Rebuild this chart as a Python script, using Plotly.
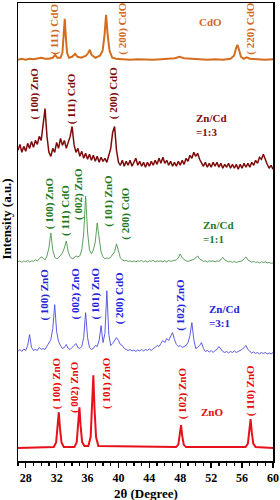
import plotly.graph_objects as go

# ---------------- data ----------------
# 2-theta sampling grid (degree) for the three mixed samples
two_theta_grid = [
    27.0, 27.25, 27.5, 27.75,
    28.0, 28.25, 28.5, 28.75,
    29.0, 29.25, 29.5, 29.75,
    30.0, 30.25, 30.5, 30.75,
    31.0, 31.25, 31.5, 31.75,
    32.0, 32.25, 32.5, 32.75,
    33.0, 33.25, 33.5, 33.75,
    34.0, 34.25, 34.5, 34.75,
    35.0, 35.25, 35.5, 35.75,
    36.0, 36.25, 36.5, 36.75,
    37.0, 37.25, 37.5, 37.75,
    38.0, 38.25, 38.5, 38.75,
    39.0, 39.25, 39.5, 39.75,
    40.0, 40.25, 40.5, 40.75,
    41.0, 41.25, 41.5, 41.75,
    42.0, 42.25, 42.5, 42.75,
    43.0, 43.25, 43.5, 43.75,
    44.0, 44.25, 44.5, 44.75,
    45.0, 45.25, 45.5, 45.75,
    46.0, 46.25, 46.5, 46.75,
    47.0, 47.25, 47.5, 47.75,
    48.0, 48.25, 48.5, 48.75,
    49.0, 49.25, 49.5, 49.75,
    50.0, 50.25, 50.5, 50.75,
    51.0, 51.25, 51.5, 51.75,
    52.0, 52.25, 52.5, 52.75,
    53.0, 53.25, 53.5, 53.75,
    54.0, 54.25, 54.5, 54.75,
    55.0, 55.25, 55.5, 55.75,
    56.0, 56.25, 56.5, 56.75,
    57.0, 57.25, 57.5, 57.75,
    58.0, 58.25, 58.5, 58.75,
    59.0, 59.25, 59.5, 59.75,
    60.0,
]

# Zn/Cd = 1:3 (stacked intensity, a.u.)
int_zncd_13 = [
    312, 318, 310, 316,
    311, 319, 314, 321,
    315, 322, 318, 326,
    322, 338, 354, 326,
    310, 306, 314, 310,
    320, 314, 324, 317,
    322, 314, 321, 326,
    336, 318, 310, 314,
    306, 311, 304, 309,
    303, 308, 302, 307,
    301, 306, 300, 305,
    301, 304, 300, 306,
    314, 330, 336, 312,
    300, 297, 302, 296,
    301, 297, 302, 296,
    300, 304, 297, 301,
    296, 300, 295, 300,
    296, 301, 297, 302,
    298, 304, 299, 305,
    299, 302, 297, 301,
    296, 300, 296, 301,
    297, 302, 298, 304,
    301, 307, 304, 310,
    306, 309, 303, 300,
    296, 300, 295, 299,
    295, 300, 296, 300,
    295, 299, 294, 298,
    295, 299, 294, 298,
    294, 298, 293, 298,
    294, 299, 295, 299,
    295, 300, 297, 302,
    299, 305, 303, 308,
    302, 298, 294, 297,
    293,
]

# Zn/Cd = 1:1
int_zncd_11 = [
    200, 201, 199.5, 201,
    200, 201.5, 200, 201,
    200.5, 202, 201, 203,
    205, 204, 202, 206,
    214, 229, 212, 205,
    203, 204, 206, 209,
    214, 221, 210, 205,
    203, 204, 206, 205,
    206, 212, 228, 266,
    230, 212, 208, 212,
    220, 239, 224, 210,
    205, 203, 204, 203,
    205, 207, 210, 218,
    210, 204, 202, 201,
    201.5, 200.5, 201, 200,
    201, 200, 201, 200.5,
    201.5, 200, 201, 200,
    201, 200.5, 201.5, 200,
    201, 200.5, 201, 200,
    201, 200, 201.5, 200.5,
    201, 201.5, 202, 204,
    208, 204, 202, 201,
    200.5, 201, 201.5, 202.5,
    204, 206, 203, 201.5,
    200.5, 201, 200, 201,
    200.5, 201, 200, 201,
    200.5, 202, 204.5, 202,
    201, 200, 200.5, 199.5,
    200.5, 199.5, 200, 200.5,
    201, 203, 205, 202,
    201, 199.5, 200.5, 199.5,
    200, 199, 200, 199.5,
    200, 199, 199.5, 198.5,
    199,
]

# Zn/Cd = 3:1
int_zncd_31 = [
    110, 112, 110, 112.5,
    111, 116, 127, 114,
    111, 112, 111, 114,
    112, 113, 112, 115,
    118, 122, 133, 157,
    130, 120, 116, 113,
    114, 117, 113, 112,
    114, 116, 118, 114,
    113, 115, 124, 149,
    124, 114, 112, 113,
    116, 115, 121, 136,
    119, 128, 171, 127,
    116, 118, 121, 124,
    121, 117, 116, 113,
    112, 111, 112, 110.5,
    111.5, 110, 111.5, 110.5,
    112, 110.5, 112, 111,
    112.5, 111, 113, 114,
    116, 115, 118, 121,
    119, 123, 121, 126,
    129, 122, 117, 115,
    116, 114, 115, 116,
    119, 126, 139, 122,
    113, 114, 116, 119,
    113, 110, 111, 109.5,
    111, 109, 111, 112,
    115, 112, 110, 109,
    110, 108.5, 110, 109,
    110.5, 109, 110, 111,
    112, 114, 116, 112,
    110, 108.5, 109.5, 108,
    109, 107.5, 109, 108,
    109, 107.5, 108.5, 107.5,
    109,
]

# Pure CdO
two_theta_cdo = [
    27.0, 27.5, 28.0, 28.5, 29.0, 29.5, 30.0, 30.5, 31.0, 31.5, 31.8, 32.1,
    32.5, 32.75, 32.9, 33.05, 33.2, 33.35, 33.6, 34.0, 34.4, 34.7, 35.2,
    35.8, 36.1, 36.3, 36.5, 37.0, 37.6, 37.95, 38.2, 38.4, 38.6, 38.85,
    39.2, 39.7, 40.5, 41.5, 42.5, 43.5, 44.5, 45.5, 46.5, 47.3, 47.9, 48.5,
    49.5, 50.5, 51.5, 52.5, 53.5, 54.5, 54.95, 55.2, 55.4, 55.6, 55.85,
    56.2, 56.6, 57.0, 58.0, 59.0, 60.0,
]
int_cdo = [
    403, 404, 403, 404, 403.5, 404, 405, 404, 404, 405, 408, 405,
    405, 410, 425, 444, 425, 410, 405, 406, 409, 406, 405,
    407, 410, 413, 408, 405, 407, 412, 428, 448, 428, 412,
    405, 404, 403.5, 403, 403.5, 403, 403, 403.5, 404, 404.5, 406, 404.5,
    404, 403.5, 403, 403.5, 403, 404, 407, 414, 418, 413, 406,
    404, 405.5, 404, 403.5, 403, 403.5,
]

# Pure ZnO
two_theta_zno = [
    27.0, 31.63, 31.93, 32.13, 32.28, 32.43, 32.63, 32.93,
    34.3, 34.6, 34.8, 34.95, 35.1, 35.3, 35.6,
    36.1, 36.4, 36.6, 36.75, 36.9, 37.1, 37.4,
    47.45, 47.75, 47.95, 48.1, 48.25, 48.45, 48.75,
    56.45, 56.75, 56.95, 57.1, 57.25, 57.45, 57.75, 60.0,
]
int_zno = [
    13, 14, 18.5, 33, 49, 33, 18.5, 14,
    14, 19, 35.5, 54, 35.5, 19, 15,
    15, 24, 53, 86, 53, 24, 15,
    14, 16.5, 25.5, 36, 25.5, 16.5, 14,
    14, 17.5, 29, 42, 29, 17.5, 14, 13,
]

sample_names = ["CdO", "Zn/Cd<br>=1:3", "Zn/Cd<br>=1:1", "Zn/Cd<br>=3:1", "ZnO"]

peak_labels_cdo = ["( 111) CdO", "( 200) CdO", "( 220) CdO"]
peak_labels_13 = ["( 100) ZnO", "( 111) CdO", "( 200) CdO"]
peak_labels_11 = ["( 100) ZnO", "( 111) CdO", "( 002) ZnO", "( 101) ZnO", "( 200) CdO"]
peak_labels_31 = ["( 100) ZnO", "( 002) ZnO", "( 101) ZnO", "( 200) CdO", "( 102) ZnO"]
peak_labels_zno = ["( 100) ZnO", "( 002) ZnO", "( 101) ZnO", "( 102) ZnO", "( 110) ZnO"]

x_ticks = [28, 32, 36, 40, 44, 48, 52, 56, 60]
x_title = "2θ (Degree)"
y_title = "Intensity (a.u.)"

# ---------------- layout / style (not data) ----------------
FONT = "Liberation Serif"
C_CDO, C_13, C_11, C_31, C_ZNO = "#D46D1E", "#7E0A0A", "#4C944C", "#4B4BE0", "#E8101A"
L_CDO, L_13, L_11, L_31, L_ZNO = "#CF6A1E", "#7E0A0A", "#1F7A1F", "#2323DD", "#E80A0A"

# label placements: (2theta, intensity centre)
pos_cdo = [(31.77, 434), (40.57, 434), (57.12, 434)]
pos_13 = [(29.19, 369), (33.96, 364), (39.37, 369)]
pos_11 = [(31.03, 259), (33.06, 252), (34.73, 268), (38.6, 261), (40.92, 248)]
pos_31 = [(30.48, 167), (34.48, 168), (37.05, 168), (40.15, 163), (48.1, 157)]
pos_zno = [(31.9, 78), (34.35, 74), (38.47, 78), (48.23, 68), (57.0, 71)]
name_pos = [(51.88, 441, "center"), (49.8, 337, "left"), (50.72, 230, "left"),
            (51.49, 146, "left"), (52.13, 49, "center")]

fig = go.Figure()
fig.add_trace(go.Scatter(x=two_theta_cdo, y=int_cdo, mode="lines",
                         line=dict(color=C_CDO, width=2), hoverinfo="skip"))
fig.add_trace(go.Scatter(x=two_theta_grid, y=int_zncd_13, mode="lines",
                         line=dict(color=C_13, width=1.5), hoverinfo="skip"))
fig.add_trace(go.Scatter(x=two_theta_grid, y=int_zncd_11, mode="lines",
                         line=dict(color=C_11, width=0.9), hoverinfo="skip"))
fig.add_trace(go.Scatter(x=two_theta_grid, y=int_zncd_31, mode="lines",
                         line=dict(color=C_31, width=0.9), hoverinfo="skip"))
fig.add_trace(go.Scatter(x=two_theta_zno, y=int_zno, mode="lines",
                         line=dict(color=C_ZNO, width=2), hoverinfo="skip"))

annotations = []
for labels, positions, col in [(peak_labels_cdo, pos_cdo, L_CDO),
                               (peak_labels_13, pos_13, L_13),
                               (peak_labels_11, pos_11, L_11),
                               (peak_labels_31, pos_31, L_31),
                               (peak_labels_zno, pos_zno, L_ZNO)]:
    for txt, (px, py) in zip(labels, positions):
        annotations.append(dict(x=px, y=py, xref="x", yref="y", text="<b>%s</b>" % txt,
                                textangle=-90, showarrow=False,
                                xanchor="center", yanchor="middle",
                                font=dict(family=FONT, size=11, color=col)))

for name, (px, py, anc), col in zip(sample_names, name_pos, [L_CDO, L_13, L_11, L_31, L_ZNO]):
    annotations.append(dict(x=px, y=py, xref="x", yref="y", text="<b>%s</b>" % name,
                            showarrow=False, xanchor=anc, yanchor="middle", align="left",
                            font=dict(family=FONT, size=11, color=col)))

annotations.append(dict(x=0, y=243, xref="paper", yref="y", text="<b>%s</b>" % y_title,
                        textangle=-90, showarrow=False, xanchor="right", yanchor="middle",
                        xshift=-2, font=dict(family=FONT, size=13, color="black")))
annotations.append(dict(x=0.5, y=0, xref="paper", yref="paper", text="<b>%s</b>" % x_title,
                        showarrow=False, xanchor="center", yanchor="top", yshift=-23,
                        font=dict(family=FONT, size=13, color="black")))

fig.update_layout(
    width=280, height=500,
    margin=dict(l=18, r=6, t=1, b=39),
    paper_bgcolor="white", plot_bgcolor="white",
    showlegend=False,
    hovermode=False,
    annotations=annotations,
    xaxis=dict(range=[27, 60], tickvals=x_ticks, ticktext=["<b>%d</b>" % v for v in x_ticks],
               ticks="outside", ticklen=5, tickwidth=1.5, tickcolor="black",
               minor=dict(dtick=1, tick0=27, ticks="outside", ticklen=3, tickwidth=1.2,
                          tickcolor="black"),
               showline=True, mirror=True, linecolor="black", linewidth=1.5,
               showgrid=False, zeroline=False,
               tickfont=dict(family=FONT, size=12, color="black")),
    yaxis=dict(range=[0, 460], showticklabels=False, ticks="",
               showline=True, mirror=True, linecolor="black", linewidth=1.5,
               showgrid=False, zeroline=False),
)

fig.write_html("out.html",
               config={"displayModeBar": False, "staticPlot": True},
               post_script="document.body.style.margin='0';"
                           "document.body.style.padding='0';"
                           "document.body.style.overflow='hidden';")
